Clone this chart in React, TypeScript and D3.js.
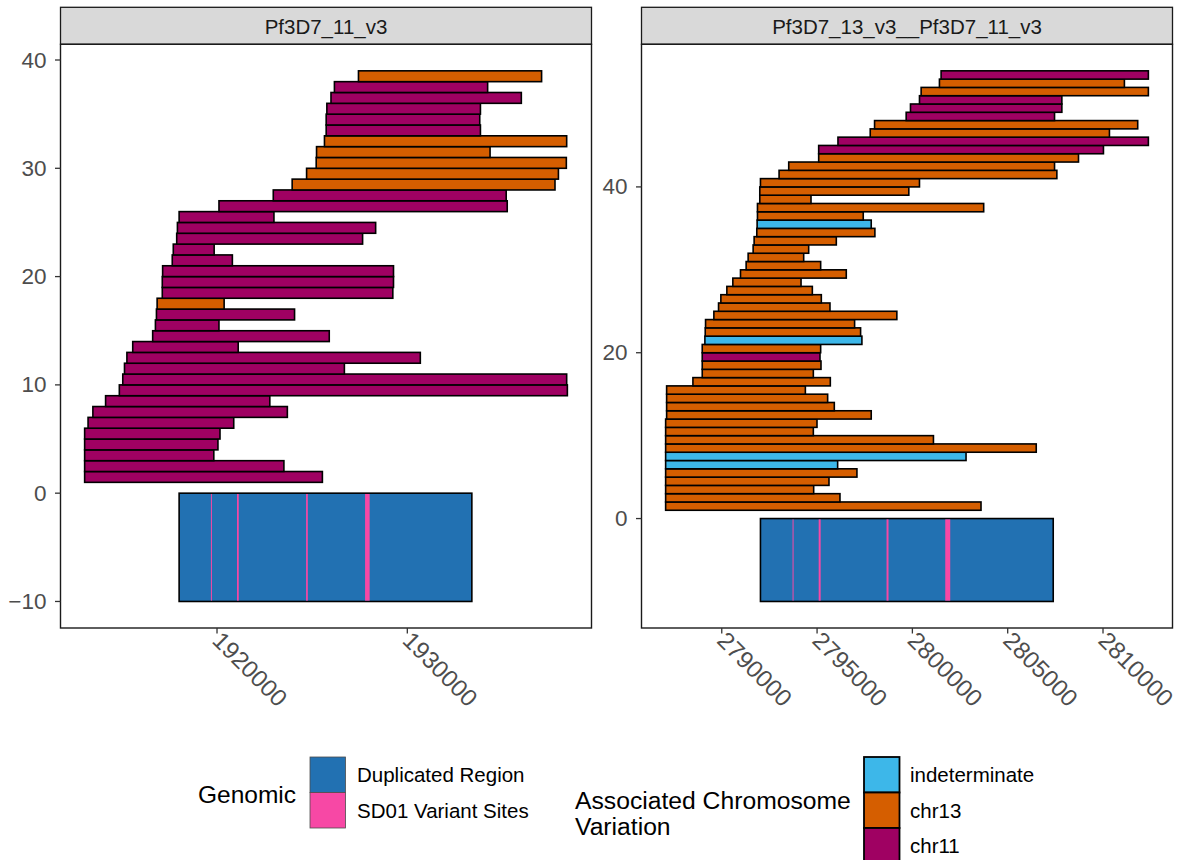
import React from "react";
import * as d3 from "d3";

// Colour keys
const chromosomes = ["indeterminate", "chr13", "chr11"];
const chromColors = ["#3DB7E9", "#D55E00", "#9F0162"];
const genomicLabels = ["Duplicated Region", "SD01 Variant Sites"];
const genomicColors = ["#2271B2", "#F748A5"];

// Panel 1: Pf3D7_11_v3 (rows 1..38, bottom to top)
const p1Title = "Pf3D7_11_v3";
const p1Start = [
  1913044, 1913044, 1913044, 1913044, 1913044, 1913224, 1913477, 1914145, 1914867, 1915048,
  1915138, 1915265, 1915571, 1916619, 1916763, 1916817, 1916853, 1917124, 1917124, 1917142,
  1917648, 1917702, 1917882, 1917919, 1918009, 1920103, 1922956, 1923949, 1924707, 1925212,
  1925230, 1925646, 1925736, 1925736, 1925772, 1925989, 1926169, 1927433,
];
const p1End = [
  1925537, 1923515, 1919832, 1920049, 1920157, 1920879, 1923696, 1922775, 1938410, 1938374,
  1926693, 1930683, 1921114, 1925898, 1920103, 1924075, 1920374, 1929238, 1929274, 1929274,
  1920807, 1919850, 1927650, 1928336, 1922992, 1935250, 1935196, 1937760, 1937940, 1938356,
  1934348, 1938374, 1933842, 1933806, 1933842, 1935991, 1934221, 1937056,
];
const p1Chrom = [
  "chr11", "chr11", "chr11", "chr11", "chr11", "chr11", "chr11", "chr11", "chr11", "chr11",
  "chr11", "chr11", "chr11", "chr11", "chr11", "chr11", "chr13", "chr11", "chr11", "chr11",
  "chr11", "chr11", "chr11", "chr11", "chr11", "chr11", "chr11", "chr13", "chr13", "chr13",
  "chr13", "chr13", "chr11", "chr11", "chr11", "chr11", "chr11", "chr13",
];
const p1Region = [1918009, 1933391];
const p1SiteStart = [1919680, 1921050, 1924680, 1927780];
const p1SiteEnd = [1919732, 1921142, 1924772, 1928020];
const p1XTicks = [1920000, 1930000];
const p1YTicks = [-10, 0, 10, 20, 30, 40];

// Panel 2: Pf3D7_13_v3__Pf3D7_11_v3 (rows 1..53, bottom to top)
const p2Title = "Pf3D7_13_v3__Pf3D7_11_v3";
const p2Start = [
  2787056, 2787056, 2787056, 2787056, 2787056, 2787056, 2787056, 2787056, 2787056, 2787056,
  2787056, 2787108, 2787108, 2787108, 2787108, 2788487, 2788976, 2788976, 2788976, 2788976,
  2789115, 2789133, 2789150, 2789586, 2789831, 2789953, 2790267, 2790581, 2790983, 2791279,
  2791384, 2791646, 2791698, 2791838, 2791855, 2791873, 2791873, 2791995, 2791995, 2792030,
  2793007, 2793513, 2795084, 2795084, 2796096, 2797789, 2798016, 2799674, 2799900, 2800372,
  2800459, 2801419, 2801506,
];
const p2End = [
  2803600, 2796201, 2794822, 2795625, 2797091, 2796079, 2802815, 2806497, 2801105, 2794804,
  2794996, 2797841, 2795904, 2795555, 2794386, 2795695, 2794804, 2795206, 2795154, 2795188,
  2797352, 2797283, 2796969, 2799185, 2795677, 2795223, 2794752, 2794159, 2796532, 2795188,
  2794298, 2794560, 2796009, 2798033, 2797841, 2797422, 2803740, 2794682, 2799813, 2800372,
  2807579, 2807457, 2808714, 2810023, 2812379, 2810337, 2811820, 2807457, 2807841, 2807841,
  2812379, 2811122, 2812379,
];
const p2Chrom = [
  "chr13", "chr13", "chr13", "chr13", "chr13", "indeterminate", "indeterminate", "chr13", "chr13", "chr13",
  "chr13", "chr13", "chr13", "chr13", "chr13", "chr13", "chr13", "chr13", "chr11", "chr13",
  "indeterminate", "chr13", "chr13", "chr13", "chr13", "chr13", "chr13", "chr13", "chr13", "chr13",
  "chr13", "chr13", "chr13", "chr13", "indeterminate", "chr13", "chr13", "chr13", "chr13", "chr13",
  "chr13", "chr13", "chr13", "chr11", "chr11", "chr13", "chr13", "chr11", "chr11", "chr11",
  "chr13", "chr13", "chr11",
];
const p2Region = [2792030, 2807388];
const p2SiteStart = [2793714, 2795084, 2798644, 2801724];
const p2SiteEnd = [2793766, 2795188, 2798748, 2801986];
const p2XTicks = [2790000, 2795000, 2800000, 2805000, 2810000];
const p2YTicks = [0, 20, 40];

const FONT = "'Liberation Sans', Arial, Helvetica, sans-serif";
const chromColor = d3.scaleOrdinal<string, string>().domain(chromosomes).range(chromColors);

type PanelProps = {
  title: string;
  left: number;
  width: number;
  starts: number[];
  ends: number[];
  chroms: string[];
  region: number[];
  siteStart: number[];
  siteEnd: number[];
  xTicks: number[];
  yTicks: number[];
};

const TOP = 44.3;
const BOTTOM = 628;
const STRIP_TOP = 7.3;

function expand(lo: number, hi: number): [number, number] {
  const pad = (hi - lo) * 0.05;
  return [lo - pad, hi + pad];
}

function Panel(p: PanelProps) {
  const n = p.starts.length;
  const xMin = Math.min(d3.min(p.starts)!, p.region[0]);
  const xMax = Math.max(d3.max(p.ends)!, p.region[1]);
  const x = d3.scaleLinear().domain(expand(xMin, xMax)).range([p.left, p.left + p.width]);
  const y = d3.scaleLinear().domain(expand(-10, n + 1)).range([BOTTOM, TOP]);
  const right = p.left + p.width;
  const rows = d3.range(n);
  return (
    <g>
      {/* strip */}
      <rect x={p.left} y={STRIP_TOP} width={p.width} height={TOP - STRIP_TOP}
        fill="#D9D9D9" stroke="#1A1A1A" strokeWidth={1.3} />
      <text x={(p.left + right) / 2} y={(STRIP_TOP + TOP) / 2 + 0.5} textAnchor="middle"
        dominantBaseline="central" fontSize={20.5} fill="#1A1A1A" fontFamily={FONT}>{p.title}</text>
      {/* panel background */}
      <rect x={p.left} y={TOP} width={p.width} height={BOTTOM - TOP} fill="#FFFFFF" />
      {/* duplicated region */}
      <rect x={x(p.region[0])} y={y(0)} width={x(p.region[1]) - x(p.region[0])}
        height={y(-10) - y(0)} fill={genomicColors[0]} stroke="#000" strokeWidth={1.6} />
      {p.siteStart.map((s, k) => (
        <rect key={"s" + k} x={x(s)} y={y(0) + 0.8} width={Math.max(1, x(p.siteEnd[k]) - x(s))}
          height={y(-10) - y(0) - 1.6} fill={genomicColors[1]} />
      ))}
      {/* associated bars */}
      {rows.map((i) => (
        <rect key={"b" + i} x={x(p.starts[i])} y={y(i + 2)}
          width={x(p.ends[i]) - x(p.starts[i])} height={y(i + 1) - y(i + 2)}
          fill={chromColor(p.chroms[i])} stroke="#000" strokeWidth={1.6} />
      ))}
      {/* border */}
      <rect x={p.left} y={TOP} width={p.width} height={BOTTOM - TOP} fill="none"
        stroke="#1A1A1A" strokeWidth={1.4} />
      {/* y axis */}
      {p.yTicks.map((t) => (
        <g key={"y" + t}>
          <line x1={p.left - 5.5} x2={p.left} y1={y(t)} y2={y(t)} stroke="#333" strokeWidth={1.3} />
          <text x={p.left - 14} y={y(t)} textAnchor="end" dominantBaseline="central"
            fontSize={22.5} fill="#4D4D4D" fontFamily={FONT}>{t < 0 ? "\u2212" + Math.abs(t) : t}</text>
        </g>
      ))}
      {/* x axis */}
      {p.xTicks.map((t) => (
        <g key={"x" + t}>
          <line x1={x(t)} x2={x(t)} y1={BOTTOM} y2={BOTTOM + 5.5} stroke="#333" strokeWidth={1.3} />
          <text transform={`translate(${x(t)},${BOTTOM + 8}) rotate(45)`} textAnchor="start"
            dominantBaseline="central" fontSize={24} fill="#4D4D4D" fontFamily={FONT}>{t}</text>
        </g>
      ))}
    </g>
  );
}

function Legends() {
  const key = 35.5;
  const gx = 310;
  const cx = 864;
  const top = 757;
  return (
    <g fontFamily={FONT}>
      <text x={198} y={794} dominantBaseline="central" fontSize={24.5} fill="#000">Genomic</text>
      {genomicLabels.map((lab, k) => (
        <g key={lab}>
          <rect x={gx} y={top + k * key} width={key} height={key} fill={genomicColors[k]}
            stroke="#4D4D4D" strokeWidth={0.8} />
          <text x={357} y={top + k * key + key / 2} dominantBaseline="central" fontSize={20.5}
            fill="#000">{lab}</text>
        </g>
      ))}
      <text x={575} y={800} dominantBaseline="central" fontSize={24.7} fill="#000">Associated Chromosome</text>
      <text x={575} y={826} dominantBaseline="central" fontSize={24.7} fill="#000">Variation</text>
      {chromosomes.map((c, k) => (
        <g key={c}>
          <rect x={cx} y={top + k * key} width={key} height={key} fill={chromColor(c)}
            stroke="#000" strokeWidth={1.8} />
          <text x={910} y={top + k * key + key / 2} dominantBaseline="central" fontSize={20.5}
            fill="#000">{c}</text>
        </g>
      ))}
    </g>
  );
}

export default function App() {
  const W = 531;
  return (
    <svg width={1178} height={860} style={{ position: "absolute", left: 0, top: 0, background: "#fff" }}>
      <rect width={1178} height={860} fill="#fff" />
      <Panel title={p1Title} left={60.5} width={W} starts={p1Start} ends={p1End} chroms={p1Chrom}
        region={p1Region} siteStart={p1SiteStart} siteEnd={p1SiteEnd} xTicks={p1XTicks} yTicks={p1YTicks} />
      <Panel title={p2Title} left={641.5} width={W} starts={p2Start} ends={p2End} chroms={p2Chrom}
        region={p2Region} siteStart={p2SiteStart} siteEnd={p2SiteEnd} xTicks={p2XTicks} yTicks={p2YTicks} />
      <Legends />
    </svg>
  );
}
